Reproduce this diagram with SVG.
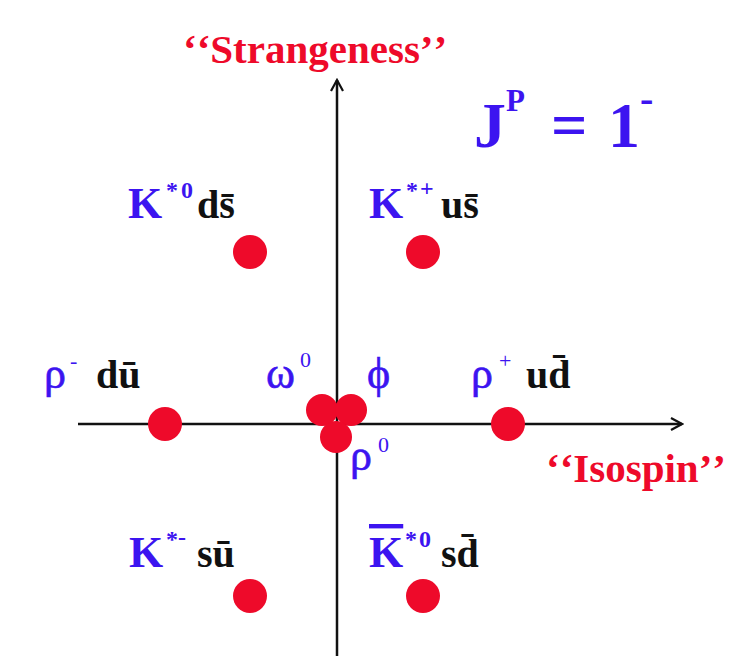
<svg xmlns="http://www.w3.org/2000/svg" width="737" height="656" viewBox="0 0 737 656">
<style>
text{font-family:"Liberation Serif","Times New Roman",serif}
.b{fill:#3c14f0;font-weight:bold;font-size:44px}
.bs{fill:#3c14f0;font-weight:bold;font-size:24px}
.g{fill:#3c14f0;font-size:44px;stroke:#3c14f0;stroke-width:0.6}
.gs{fill:#3c14f0;font-size:22px}
.q{fill:#111;font-weight:bold;font-size:40px}
.r{fill:#ee0a2a;font-weight:bold;font-size:41px}
.dot{fill:#ee0a2a}
.ax{stroke:#111;stroke-width:2.5;fill:none}
</style>
<defs>
<marker id="ah" viewBox="0 0 14 14" refX="12" refY="7" markerWidth="14" markerHeight="14" markerUnits="userSpaceOnUse" orient="auto">
<polyline points="1,1 12,7 1,13" fill="none" stroke="#111" stroke-width="2.2"/>
</marker>
</defs>
<rect width="737" height="656" fill="#fff"/>
<g id="connectors">
<line class="ax" x1="337" y1="656" x2="337" y2="80" marker-end="url(#ah)"/>
<line class="ax" x1="78" y1="424" x2="682" y2="424" marker-end="url(#ah)"/>
</g>
<g id="axis-labels">
<text class="r" x="183" y="63">‘<tspan dx="3">‘</tspan>Strangeness’<tspan dx="3">’</tspan></text>
<text class="r" x="546" y="482">‘<tspan dx="3">‘</tspan>Isospin’<tspan dx="3">’</tspan></text>
</g>
<g id="jp">
<text fill="#3c14f0" font-weight="bold" font-size="64" x="474" y="147">J</text>
<text fill="#3c14f0" font-weight="bold" font-size="31" x="506" y="111">P</text>
<text fill="#3c14f0" font-weight="bold" font-size="64" x="551" y="147">=</text>
<text fill="#3c14f0" font-weight="bold" font-size="64" x="608" y="147">1</text>
<text fill="#3c14f0" font-weight="bold" font-size="40" x="640" y="112">-</text>
</g>
<g id="K_star0">
<text class="b" x="128" y="218">K</text>
<text class="bs" x="166" y="198">*</text>
<text class="bs" x="181" y="198">0</text>
<text class="q" x="197" y="218">ds̄</text>
<circle class="dot" cx="250" cy="252" r="17"/>
</g>
<g id="K_starplus">
<text class="b" x="369" y="218">K</text>
<text class="bs" x="406" y="198">*</text>
<text class="bs" x="420" y="196">+</text>
<text class="q" x="441" y="218">us̄</text>
<circle class="dot" cx="423" cy="252" r="17"/>
</g>
<g id="rho_minus">
<text class="g" x="44" y="388">ρ</text>
<text class="gs" x="70" y="368">-</text>
<text class="q" x="96" y="388">dū</text>
<circle class="dot" cx="165" cy="424" r="17"/>
</g>
<g id="rho_plus">
<text class="g" x="471" y="388">ρ</text>
<text class="gs" x="499" y="368">+</text>
<text class="q" x="526" y="388">ud̄</text>
<circle class="dot" cx="508" cy="424" r="17"/>
</g>
<g id="center">
<circle class="dot" cx="322" cy="410" r="16"/>
<circle class="dot" cx="351" cy="410" r="16"/>
<circle class="dot" cx="336" cy="437" r="16"/>
</g>
<g id="omega0">
<text class="g" x="266" y="388" font-size="48">ω</text>
<text class="gs" x="300" y="367">0</text>
</g>
<g id="phi">
<text class="g" x="367" y="388">ϕ</text>
</g>
<g id="rho0">
<text class="g" x="350" y="470">ρ</text>
<text class="gs" x="378" y="452">0</text>
</g>
<g id="K_starminus">
<text class="b" x="129" y="567">K</text>
<text class="bs" x="166" y="547">*</text>
<text class="bs" x="178" y="545">-</text>
<text class="q" x="197" y="567">sū</text>
<circle class="dot" cx="250" cy="596" r="17"/>
</g>
<g id="Kbar_star0">
<text class="b" x="369" y="567" text-decoration="overline">K</text>
<text class="bs" x="405" y="547">*</text>
<text class="bs" x="419" y="547">0</text>
<text class="q" x="441" y="567">sd̄</text>
<circle class="dot" cx="423" cy="596" r="17"/>
</g>
</svg>
